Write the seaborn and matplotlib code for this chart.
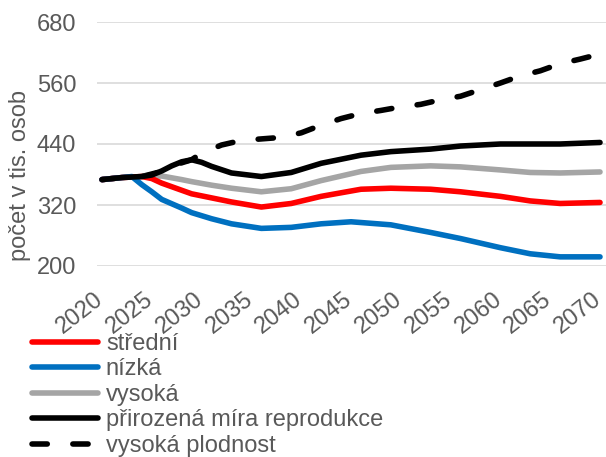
import matplotlib
matplotlib.use("Agg")
import matplotlib.pyplot as plt
import matplotlib.transforms as mtransforms
import seaborn as sns

# Data (thousands of persons)
roky_stredni = [2020, 2022, 2024, 2025, 2026, 2028, 2029, 2031, 2033, 2036, 2039, 2042, 2046, 2049, 2053, 2056, 2060, 2063, 2066, 2070]
stredni = [370, 374, 376, 372, 363, 349, 342, 334, 326, 316, 323, 337, 351, 353, 351, 346, 337, 328, 323, 325]

roky_nizka = [2020, 2022, 2023, 2024, 2025, 2026, 2028, 2029, 2031, 2033, 2036, 2039, 2042, 2045, 2049, 2053, 2056, 2060, 2063, 2066, 2070]
nizka = [370, 374, 376, 360, 346, 331, 314, 305, 293, 283, 274, 276, 283, 287, 281, 266, 254, 236, 224, 218, 218]

roky_vysoka = [2020, 2022, 2024, 2026, 2028, 2029, 2031, 2033, 2036, 2039, 2042, 2046, 2049, 2053, 2056, 2060, 2063, 2066, 2070]
vysoka = [370, 374, 376, 377, 370, 366, 359, 353, 346, 352, 368, 386, 394, 397, 395, 389, 384, 383, 385]

roky_prirozena = [2020, 2022, 2024, 2025, 2026, 2027, 2028, 2029, 2030, 2031, 2033, 2036, 2039, 2042, 2046, 2049, 2053, 2056, 2060, 2063, 2066, 2070]
prirozena = [370, 374, 376, 379, 387, 397, 405, 409, 404, 396, 383, 376, 384, 402, 418, 425, 430, 436, 440, 440, 440, 443]

roky_plodnost = [2020, 2022, 2024, 2026, 2028, 2029, 2030, 2032, 2034, 2036, 2038, 2040, 2042, 2044, 2046, 2048, 2050, 2052, 2054, 2056, 2058, 2060, 2062, 2064, 2066, 2068, 2070]
plodnost = [370, 374, 376, 386, 403, 409, 422, 438, 447, 450, 453, 462, 477, 490, 500, 506, 513, 518, 527, 534, 547, 560, 574, 584, 598, 607, 617]

x_ticks = list(range(2020, 2071, 5))
y_ticks = [200, 320, 440, 560, 680]

sns.set_style("white")
plt.rcParams["font.family"] = ["Liberation Sans", "DejaVu Sans"]

text_color = "#595959"
lw = 4.0
fs = 17

fig = plt.figure(figsize=(6.06, 4.57), dpi=100)
ax = fig.add_axes([97 / 606, 1 - 266 / 457, 509 / 606, 244 / 457])

for y in y_ticks:
    ax.axhline(y, color="#D9D9D9", lw=1.2, zorder=0)

sns.lineplot(x=roky_plodnost, y=plodnost, color="black", lw=lw, ax=ax,
             label="vysoká plodnost")
ax.lines[-1].set_dashes([2.75, 4.6])
ax.lines[-1].set_dash_capstyle("round")
sns.lineplot(x=roky_vysoka, y=vysoka, color="#A5A5A5", lw=lw, ax=ax, label="vysoká")
sns.lineplot(x=roky_stredni, y=stredni, color="#FF0000", lw=lw, ax=ax, label="střední")
sns.lineplot(x=roky_nizka, y=nizka, color="#0070C0", lw=lw, ax=ax, label="nízká")
sns.lineplot(x=roky_prirozena, y=prirozena, color="black", lw=lw, ax=ax,
             label="přirozená míra reprodukce")

for ln in ax.lines:
    ln.set_solid_capstyle("round")
    ln.set_solid_joinstyle("round")

ax.set_xlim(2019.5, 2070.6)
ax.set_ylim(200, 680)
ax.set_xticks(x_ticks)
ax.set_yticks(y_ticks)
ax.tick_params(axis="both", length=0, labelsize=fs, labelcolor=text_color)
ax.tick_params(axis="y", pad=15)
ax.tick_params(axis="x", pad=16)
shift = mtransforms.ScaledTranslation(-8 / 100, 0, fig.dpi_scale_trans)
for lab in ax.get_xticklabels():
    lab.set_rotation(38)
    lab.set_ha("right")
    lab.set_rotation_mode("anchor")
    lab.set_transform(lab.get_transform() + shift)

sns.despine(ax=ax, left=True, bottom=True)

ax.set_ylabel("počet v tis. osob", fontsize=fs, color=text_color)
ax.yaxis.set_label_coords(-0.13, 0.37)
ax.set_xlabel("")

handles, labels = ax.get_legend_handles_labels()
order = ["střední", "nízká", "vysoká", "přirozená míra reprodukce", "vysoká plodnost"]
hmap = dict(zip(labels, handles))
ax.get_legend().remove()
leg = fig.legend([hmap[k] for k in order], order, loc="lower left",
                 bbox_to_anchor=(0.052, 0.0), frameon=False, fontsize=fs,
                 handlelength=2.8, handletextpad=0.35, labelspacing=0.15,
                 borderaxespad=0, borderpad=0, labelcolor=text_color)

fig.savefig("out.png", dpi=100)
